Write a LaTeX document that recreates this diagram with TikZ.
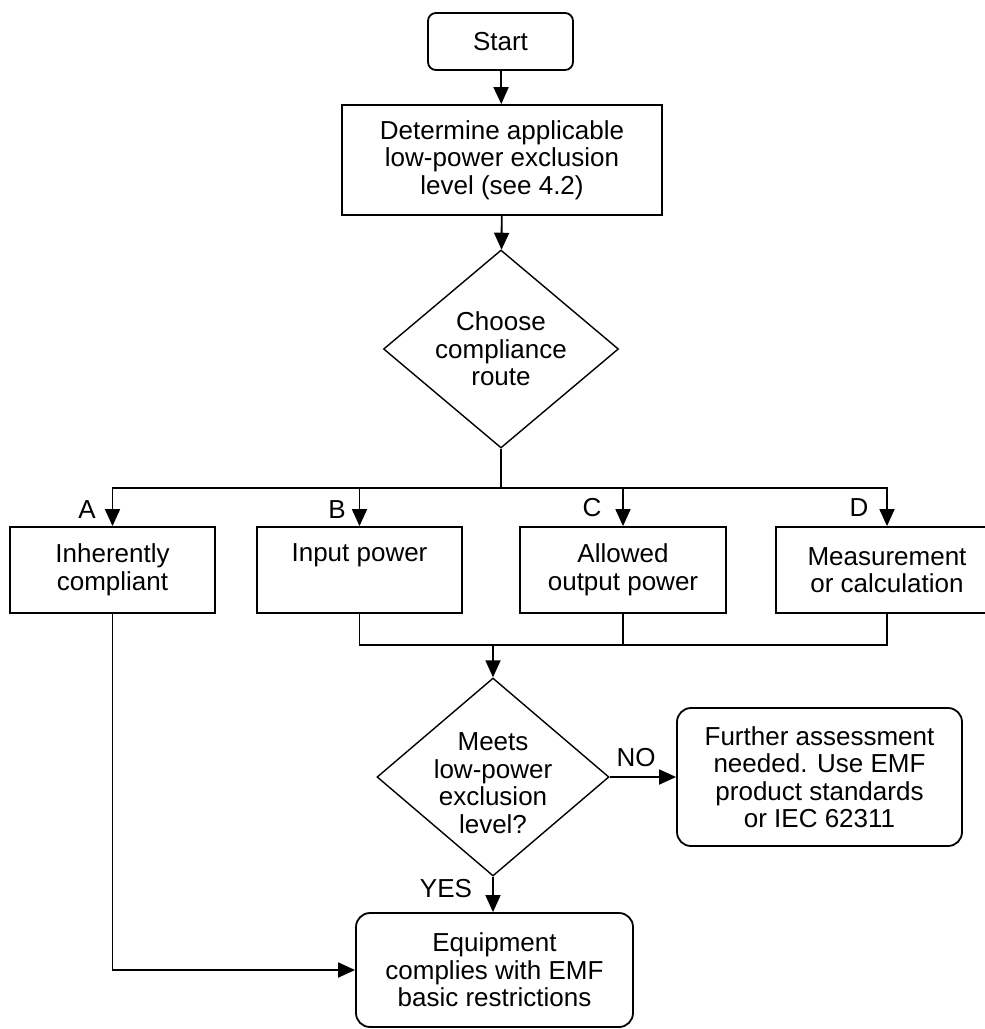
\documentclass[tikz,border=0pt]{standalone}
\usepackage{fontspec}
\setmainfont{Liberation Sans}
\usetikzlibrary{arrows.meta,shapes.geometric}

\tikzset{
  box/.style={draw, rectangle, align=center, inner sep=0pt, line width=1.8pt},
  rbox/.style={box, rounded corners=14pt},
  decision/.style={draw, diamond, inner sep=0pt, line width=1.4pt},
  txt/.style={align=center, inner sep=0pt},
  tag/.style={inner sep=0pt}
}

\begin{document}
\begin{tikzpicture}[x=1pt,y=-1pt,>={Triangle[length=17pt,width=15pt]},line width=1.8pt,
  font=\fontsize{26}{27.5}\selectfont]
\useasboundingbox (0,0) rectangle (985,1029);

\node[rbox, rounded corners=8pt, minimum width=145, minimum height=57] (start) at (500.5,41.5) {Start};
\node[box, minimum width=320, minimum height=110] (determine) at (502,160) {Determine applicable\\low-power exclusion\\level (see 4.2)};
\node[decision, minimum width=235, minimum height=198] (route) at (501,349) {};
\node[txt] (routetxt) at (route) {Choose\\compliance\\route};
\coordinate (split) at (501,488);

% the four routes
\node[box, minimum width=205, minimum height=86] (inherent) at (112.5,570) {Inherently\\compliant};
\node[box, minimum width=205, minimum height=86] (input) at (359.5,570) {Input power\\\strut};
\node[box, minimum width=206, minimum height=86] (allowed) at (623,570) {Allowed\\output power};
\node[box, minimum width=222, minimum height=86] (measure) at (887,570) {Measurement\\or calculation};
\node[tag] (tagA) at (87,510) {A};
\node[tag] (tagB) at (337,510) {B};
\node[tag] (tagC) at (592,508) {C};
\node[tag] (tagD) at (859,508) {D};

\coordinate (merge) at (493,645);
\node[decision, minimum width=232, minimum height=198] (meets) at (493,777) {};
\node[txt] (meetstxt) at ([yshift=-6pt]meets.center) {Meets\\low-power\\exclusion\\level?};
\node[rbox, minimum width=285, minimum height=138] (further) at (819.5,777) {Further assessment\\needed. Use EMF\\product standards\\or IEC 62311};
\node[rbox, minimum width=277, minimum height=114] (complies) at (494.5,970) {Equipment\\complies with EMF\\basic restrictions};
\node[tag] (tagNO) at (636,758) {NO};
\node[tag] (tagYES) at (446,889) {YES};

\draw[->] (start) -- (determine);
\draw[->] (determine) -- (route);
\draw (route.south) -- (split);
\draw[->] (split) -| (inherent.north);
\draw[->] (split) -| (input.north);
\draw[->] (split) -| (allowed.north);
\draw[->] (split) -| (measure.north);

\draw (input.south) |- (merge) -| (measure.south);
\draw (allowed.south) -- (allowed.south |- merge);
\draw[->] (merge) -- (meets.north);
\draw[->] (meets.east) -- (further.west);
\draw[->] (meets.south) -- (meets.south |- complies.north);
\draw[->] (inherent.south) |- (complies.west);
\end{tikzpicture}
\end{document}
